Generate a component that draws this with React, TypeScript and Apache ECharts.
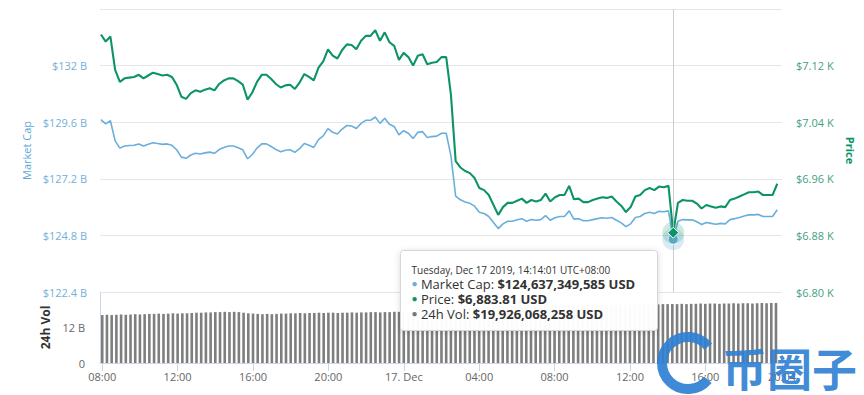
import React, { useEffect, useRef } from 'react';
import * as echarts from 'echarts';

// BTC price (USD), 15-minute steps from 16 Dec 2019 08:00
const PRICE = [
  7164, 7154, 7161, 7114, 7097, 7102, 7103, 7104, 7107, 7102,
  7106, 7110, 7108, 7106, 7107, 7104, 7093, 7076, 7073, 7081,
  7085, 7083, 7086, 7088, 7085, 7094, 7099, 7102, 7102, 7098,
  7093, 7072, 7082, 7097, 7107, 7107, 7101, 7094, 7089, 7092,
  7093, 7087, 7096, 7108, 7104, 7099, 7117, 7126, 7143, 7134,
  7130, 7142, 7150, 7149, 7143, 7155, 7162, 7162, 7170, 7155,
  7167, 7153, 7148, 7128, 7138, 7132, 7120, 7134, 7136, 7122,
  7124, 7125, 7132, 7132, 7079, 6985, 6976, 6971, 6968, 6961,
  6947, 6944, 6937, 6923, 6909, 6920, 6926, 6926, 6929, 6932,
  6926, 6930, 6928, 6930, 6939, 6928, 6934, 6937, 6937, 6950,
  6931, 6932, 6927, 6927, 6930, 6932, 6934, 6933, 6935, 6928,
  6922, 6913, 6920, 6935, 6937, 6944, 6947, 6944, 6949, 6948,
  6950, 6883.81, 6926, 6930, 6929, 6929, 6925, 6918, 6923, 6921,
  6919, 6921, 6920, 6930, 6932, 6935, 6938, 6941, 6941, 6942,
  6937, 6937, 6937, 6953,
];

// Market cap (billion USD), same time steps
const MARKET_CAP_B = [
  129.71, 129.53, 129.66, 128.81, 128.5, 128.59, 128.61, 128.62, 128.68, 128.59,
  128.66, 128.73, 128.7, 128.66, 128.68, 128.62, 128.43, 128.12, 128.07, 128.21,
  128.28, 128.25, 128.3, 128.33, 128.28, 128.44, 128.53, 128.59, 128.59, 128.52,
  128.43, 128.05, 128.23, 128.5, 128.68, 128.68, 128.57, 128.44, 128.35, 128.41,
  128.43, 128.32, 128.48, 128.7, 128.62, 128.53, 128.86, 129.02, 129.33, 129.17,
  129.1, 129.31, 129.46, 129.44, 129.33, 129.55, 129.68, 129.68, 129.82, 129.55,
  129.77, 129.51, 129.42, 129.06, 129.24, 129.13, 128.91, 129.17, 129.2, 128.95,
  128.99, 129.01, 129.13, 129.13, 128.17, 126.47, 126.31, 126.22, 126.16, 126.04,
  125.78, 125.73, 125.6, 125.35, 125.09, 125.29, 125.4, 125.4, 125.46, 125.51,
  125.4, 125.47, 125.44, 125.47, 125.64, 125.44, 125.55, 125.6, 125.6, 125.84,
  125.49, 125.51, 125.42, 125.42, 125.47, 125.51, 125.55, 125.53, 125.56, 125.44,
  125.33, 125.17, 125.29, 125.56, 125.6, 125.73, 125.78, 125.73, 125.82, 125.8,
  125.84, 124.637, 125.4, 125.47, 125.46, 125.46, 125.38, 125.26, 125.35, 125.31,
  125.27, 125.31, 125.29, 125.47, 125.51, 125.56, 125.62, 125.67, 125.67, 125.69,
  125.6, 125.6, 125.6, 125.89,
];

// 24h volume (billion USD), same time steps
const VOLUME_B = [
  16.2, 16.3, 16.2, 16.3, 16.4, 16.3, 16.4, 16.5, 16.4, 16.5,
  16.6, 16.6, 16.7, 16.6, 16.7, 16.8, 16.7, 16.8, 16.8, 16.9,
  17.0, 17.0, 17.1, 17.1, 17.2, 17.2, 17.3, 17.2, 17.3, 17.2,
  17.0, 16.8, 16.7, 16.6, 16.5, 16.6, 16.5, 16.6, 16.7, 16.7,
  16.8, 16.8, 16.9, 16.8, 16.9, 16.9, 17.0, 16.9, 17.0, 17.0,
  16.9, 17.0, 17.0, 17.1, 17.0, 17.1, 17.1, 17.2, 17.2, 17.1,
  17.2, 17.2, 17.3, 17.3, 17.2, 17.3, 17.3, 17.4, 17.3, 17.4,
  17.4, 17.4, 17.3, 17.4, 17.8, 18.2, 18.4, 18.5, 18.6, 18.6,
  18.7, 18.7, 18.8, 18.8, 18.9, 18.9, 18.9, 19.0, 19.0, 19.0,
  19.1, 19.0, 19.1, 19.1, 19.2, 19.1, 19.2, 19.2, 19.3, 19.3,
  19.3, 19.4, 19.3, 19.4, 19.4, 19.5, 19.4, 19.5, 19.5, 19.6,
  19.5, 19.6, 19.6, 19.7, 19.6, 19.7, 19.7, 19.8, 19.8, 19.9,
  19.9, 19.93, 19.9, 20.0, 19.9, 20.0, 20.0, 20.1, 20.0, 20.1,
  20.1, 20.0, 20.1, 20.1, 20.2, 20.1, 20.2, 20.2, 20.1, 20.2,
  20.3, 20.2, 20.3, 20.3,
];

const START = new Date(2019, 11, 16, 8, 0, 0).getTime();
const STEP_MS = 15 * 60 * 1000;
const AXIS_MIN = new Date(2019, 11, 16, 7, 57, 0).getTime();
const AXIS_MAX = new Date(2019, 11, 17, 20, 0, 0).getTime();
const MONTHS = ['Jan', 'Feb', 'Mar', 'Apr', 'May', 'Jun', 'Jul', 'Aug', 'Sep', 'Oct', 'Nov', 'Dec'];

const HOVER_INDEX = 121;
const TOOLTIP_TITLE = 'Tuesday, Dec 17 2019, 14:14:01 UTC+08:00';
const TOOLTIP_MCAP = 124637349585;
const TOOLTIP_PRICE = 6883.81;
const TOOLTIP_VOL = 19926068258;

const BLUE = '#6aafdc';
const GREEN = '#0c9466';
const VOL_GREY = '#7e7e7e';
const FONT = 'Open Sans';

const pad = (n: number) => (n < 10 ? '0' + n : '' + n);

export default function App() {
  const ref = useRef<HTMLDivElement>(null);

  useEffect(() => {
    document.body.style.margin = '0';
    if (!ref.current) return;
    const chart = echarts.init(ref.current, undefined, { renderer: 'svg' });
    const times = PRICE.map((_, i) => START + i * STEP_MS);
    const tHover = times[HOVER_INDEX];
    const usd = (v: number, d = 0) =>
      '$' + v.toLocaleString('en-US', { minimumFractionDigits: d, maximumFractionDigits: d }) + ' USD';

    const timeFmt = (v: number) => {
      const d = new Date(v);
      if (d.getHours() === 0 && d.getMinutes() === 0) return `${d.getDate()}. ${MONTHS[d.getMonth()]}`;
      return `${pad(d.getHours())}:${pad(d.getMinutes())}`;
    };

    const tipLine = (y: number, dot: string, label: string, value: string) => ({
      type: 'text', x: 11, y, z: 101,
      style: {
        text: `{d|●} {n|${label}: }{b|${value}}`,
        fontSize: 13, lineHeight: 14, fontFamily: FONT, fill: '#333333', textVerticalAlign: 'middle',
        rich: {
          d: { fill: dot, fontSize: 10, lineHeight: 14 },
          n: { fill: '#333333', fontSize: 13, lineHeight: 14, fontFamily: FONT },
          b: { fontWeight: 'bold', fontSize: 13, lineHeight: 14, fill: '#333333', fontFamily: FONT },
        },
      },
    });

    const option: any = {
      animation: false,
      textStyle: { fontFamily: FONT },
      grid: [
        { left: 100, right: 82, top: 9, height: 283 },
        { left: 100, right: 82, top: 292, height: 71 },
      ],
      xAxis: [
        {
          type: 'time', gridIndex: 0, min: AXIS_MIN, max: AXIS_MAX,
          axisLabel: { show: false }, axisTick: { show: false }, axisLine: { show: false },
          splitLine: { show: false },
        },
        {
          type: 'time', gridIndex: 1, min: AXIS_MIN, max: AXIS_MAX,
          splitNumber: 9, minInterval: 4 * 3600 * 1000, maxInterval: 4 * 3600 * 1000,
          axisLine: { show: true, lineStyle: { color: '#ccd6eb' } },
          axisTick: { show: true, length: 8, lineStyle: { color: '#ccd6eb' } },
          axisLabel: {
            formatter: timeFmt, color: '#666666', fontSize: 11, margin: 8,
            showMaxLabel: true, showMinLabel: false, hideOverlap: false,
          },
          splitLine: { show: false },
        },
      ],
      yAxis: [
        {
          type: 'value', gridIndex: 0, position: 'left',
          min: 122.4, max: 134.4, interval: 2.4,
          axisLine: { show: false }, axisTick: { show: false },
          axisLabel: {
            formatter: (v: number) => (v > 134 ? '' : `$${+v.toFixed(1)} B`),
            color: '#74afd8', fontSize: 11, margin: 13,
          },
          splitLine: { lineStyle: { color: '#e6e6e6' } },
          name: 'Market Cap', nameLocation: 'middle', nameRotate: 90, nameGap: 68,
          nameTextStyle: { color: '#5ea8d8', fontSize: 11 },
        },
        {
          type: 'value', gridIndex: 0, position: 'right',
          min: 6800, max: 7200, interval: 80,
          axisLine: { show: false }, axisTick: { show: false },
          axisLabel: {
            formatter: (v: number) => (v > 7190 ? '' : `$${(v / 1000).toFixed(2)} K`),
            color: '#45a083', fontSize: 11, margin: 14,
          },
          splitLine: { show: false },
          name: 'Price', nameLocation: 'middle', nameRotate: -90, nameGap: 60,
          nameTextStyle: { color: GREEN, fontSize: 11, fontWeight: 'bold' },
        },
        {
          type: 'value', gridIndex: 1, position: 'left',
          min: 0, max: 24, interval: 12,
          axisLine: { show: true, lineStyle: { color: '#ccd6eb' } }, axisTick: { show: false },
          axisLabel: {
            formatter: (v: number) => (v === 0 ? '0' : v > 20 ? '' : `${v} B`),
            color: '#666666', fontSize: 11, margin: 15,
          },
          splitLine: { show: false },
          name: '24h Vol', nameLocation: 'middle', nameRotate: 90, nameGap: 49,
          nameTextStyle: { color: '#333333', fontSize: 12, fontWeight: 'bold' },
        },
      ],
      series: [
        {
          name: 'Market Cap', type: 'line', xAxisIndex: 0, yAxisIndex: 0,
          data: MARKET_CAP_B.map((v, i) => [times[i], v]),
          symbol: 'none', lineStyle: { color: BLUE, width: 1.6 }, itemStyle: { color: BLUE },
          z: 3,
          markPoint: {
            silent: true, label: { show: false },
            data: [
              { coord: [tHover, MARKET_CAP_B[HOVER_INDEX]], symbol: 'circle', symbolSize: 22, itemStyle: { color: 'rgba(106,175,220,0.25)' } },
              { coord: [tHover, MARKET_CAP_B[HOVER_INDEX]], symbol: 'circle', symbolSize: 10, itemStyle: { color: BLUE, borderColor: '#ffffff', borderWidth: 1 } },
            ],
          },
        },
        {
          name: 'Price', type: 'line', xAxisIndex: 0, yAxisIndex: 1,
          data: PRICE.map((v, i) => [times[i], v]),
          symbol: 'none', lineStyle: { color: GREEN, width: 2.1 }, itemStyle: { color: GREEN },
          z: 4,
          markLine: {
            silent: true, symbol: ['none', 'none'], label: { show: false },
            lineStyle: { color: '#cccccc', width: 1, type: 'solid' },
            data: [{ xAxis: tHover }],
          },
          markPoint: {
            silent: true, label: { show: false },
            data: [
              { coord: [tHover, PRICE[HOVER_INDEX]], symbol: 'circle', symbolSize: 22, itemStyle: { color: 'rgba(14,152,105,0.2)' } },
              { coord: [tHover, PRICE[HOVER_INDEX]], symbol: 'diamond', symbolSize: 11, itemStyle: { color: GREEN, borderColor: '#ffffff', borderWidth: 1 } },
            ],
          },
        },
        {
          name: '24h Vol', type: 'bar', xAxisIndex: 1, yAxisIndex: 2,
          data: VOLUME_B.map((v, i) => [times[i], v]),
          barWidth: 2.6, itemStyle: { color: VOL_GREY },
        },
      ],
      graphic: [
        {
          type: 'group', left: 400, top: 250, z: 100,
          children: [
            {
              type: 'rect', z: 100, shape: { x: 0, y: 0, width: 257, height: 80, r: 3 },
              style: { fill: 'rgba(255,255,255,0.97)', stroke: '#d6d6d6', lineWidth: 1, shadowBlur: 6, shadowColor: 'rgba(0,0,0,0.15)', shadowOffsetY: 1 },
            },
            {
              type: 'text', x: 11, y: 19, z: 101,
              style: { text: TOOLTIP_TITLE, fontSize: 10, fontFamily: FONT, fill: '#333333', textVerticalAlign: 'middle' },
            },
            tipLine(33, BLUE, 'Market Cap', usd(TOOLTIP_MCAP)),
            tipLine(48, GREEN, 'Price', usd(TOOLTIP_PRICE, 2)),
            tipLine(63, '#777777', '24h Vol', usd(TOOLTIP_VOL)),
          ],
        },
        {
          type: 'arc', z: 110,
          shape: { cx: 688, cy: 363, r: 26, startAngle: 0.7, endAngle: 5.6, clockwise: true },
          style: { stroke: '#2f80d2', lineWidth: 10, fill: 'none', opacity: 0.92 },
        },
        {
          type: 'text', left: 722, top: 345, z: 110,
          style: { text: '币圈子', fontSize: 45, fontWeight: 'bold', fontFamily: 'Noto Sans CJK SC', fill: '#2f80d2', opacity: 0.92 },
        },
      ],
    };

    chart.setOption(option);
    return () => chart.dispose();
  }, []);

  return <div ref={ref} style={{ width: 864, height: 395 }} />;
}
